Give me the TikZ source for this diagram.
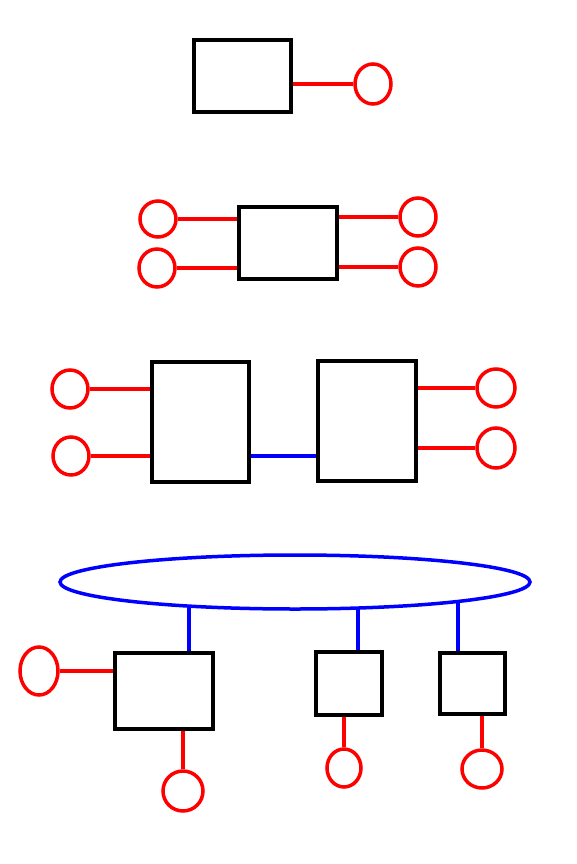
\documentclass[tikz,border=0pt]{standalone}
\usetikzlibrary{shapes.geometric}
\begin{document}
\begin{tikzpicture}[x=1pt,y=-1pt,
  box/.style={draw=black,line width=4pt,rectangle,inner sep=0pt},
  port/.style={draw=red,line width=3.5pt,ellipse,inner sep=0pt},
  rl/.style={draw=red,line width=3.5pt},
  bl/.style={draw=blue,line width=3.5pt}]
\useasboundingbox (0,0) rectangle (576,864);
% group 1
\node[box,minimum width=97pt,minimum height=72pt] (b1) at (242.5,76) {};
\node[port,minimum width=36pt,minimum height=40pt] (c1) at (373,84) {};
\draw[rl] (c1.west -| b1.east) -- (c1.west);
% group 2
\node[box,minimum width=98pt,minimum height=72pt] (b2) at (288,243) {};
\node[port,minimum width=36pt,minimum height=36pt] (c2a) at (158,219) {};
\node[port,minimum width=36pt,minimum height=38pt] (c2b) at (157,268) {};
\node[port,minimum width=36pt,minimum height=38pt] (c2c) at (418,217) {};
\node[port,minimum width=36pt,minimum height=38pt] (c2d) at (418,267) {};
\draw[rl] (c2a.east) -- (c2a.east -| b2.west);
\draw[rl] (c2b.east) -- (c2b.east -| b2.west);
\draw[rl] (c2c.west) -- (c2c.west -| b2.east);
\draw[rl] (c2d.west) -- (c2d.west -| b2.east);
% group 3
\node[box,minimum width=97pt,minimum height=120pt] (b3) at (200.5,422) {};
\node[box,minimum width=98pt,minimum height=120pt] (b4) at (367,421) {};
\coordinate (k) at (0,456);
\draw[bl] (b3.east |- k) -- (b4.west |- k);
\node[port,minimum width=36pt,minimum height=38pt] (c3a) at (70,389) {};
\node[port,minimum width=36pt,minimum height=38pt] (c3b) at (71,456) {};
\node[port,minimum width=38pt,minimum height=38pt] (c3c) at (496,388) {};
\node[port,minimum width=38pt,minimum height=40pt] (c3d) at (496,448) {};
\draw[rl] (c3a.east) -- (c3a.east -| b3.west);
\draw[rl] (c3b.east) -- (c3b.east -| b3.west);
\draw[rl] (c3c.west) -- (c3c.west -| b4.east);
\draw[rl] (c3d.west) -- (c3d.west -| b4.east);
% group 4
\node[draw=blue,line width=3.5pt,ellipse,inner sep=0pt,minimum width=470pt,minimum height=54pt] (ring) at (295,582) {};
\node[box,minimum width=98pt,minimum height=76pt] (b5) at (164,691) {};
\node[box,minimum width=66pt,minimum height=63pt] (b6) at (349,683.5) {};
\node[box,minimum width=65pt,minimum height=61pt] (b7) at (472.5,683.5) {};
\coordinate (t1) at (189,606);
\coordinate (t2) at (358,608);
\coordinate (t3) at (458,601.5);
\draw[bl] (t1) -- (t1 |- b5.north);
\draw[bl] (t2) -- (t2 |- b6.north);
\draw[bl] (t3) -- (t3 |- b7.north);
\node[port,minimum width=38pt,minimum height=48pt] (c4a) at (39,671) {};
\node[port,minimum width=40pt,minimum height=40pt] (c4b) at (183,791) {};
\node[port,minimum width=34pt,minimum height=38pt] (c4c) at (344,768) {};
\node[port,minimum width=40pt,minimum height=38pt] (c4d) at (482,769) {};
\draw[rl] (c4a.east) -- (c4a.east -| b5.west);
\draw[rl] (c4b.north) -- (c4b.north |- b5.south);
\draw[rl] (c4c.north) -- (c4c.north |- b6.south);
\draw[rl] (c4d.north) -- (c4d.north |- b7.south);
\end{tikzpicture}
\end{document}
